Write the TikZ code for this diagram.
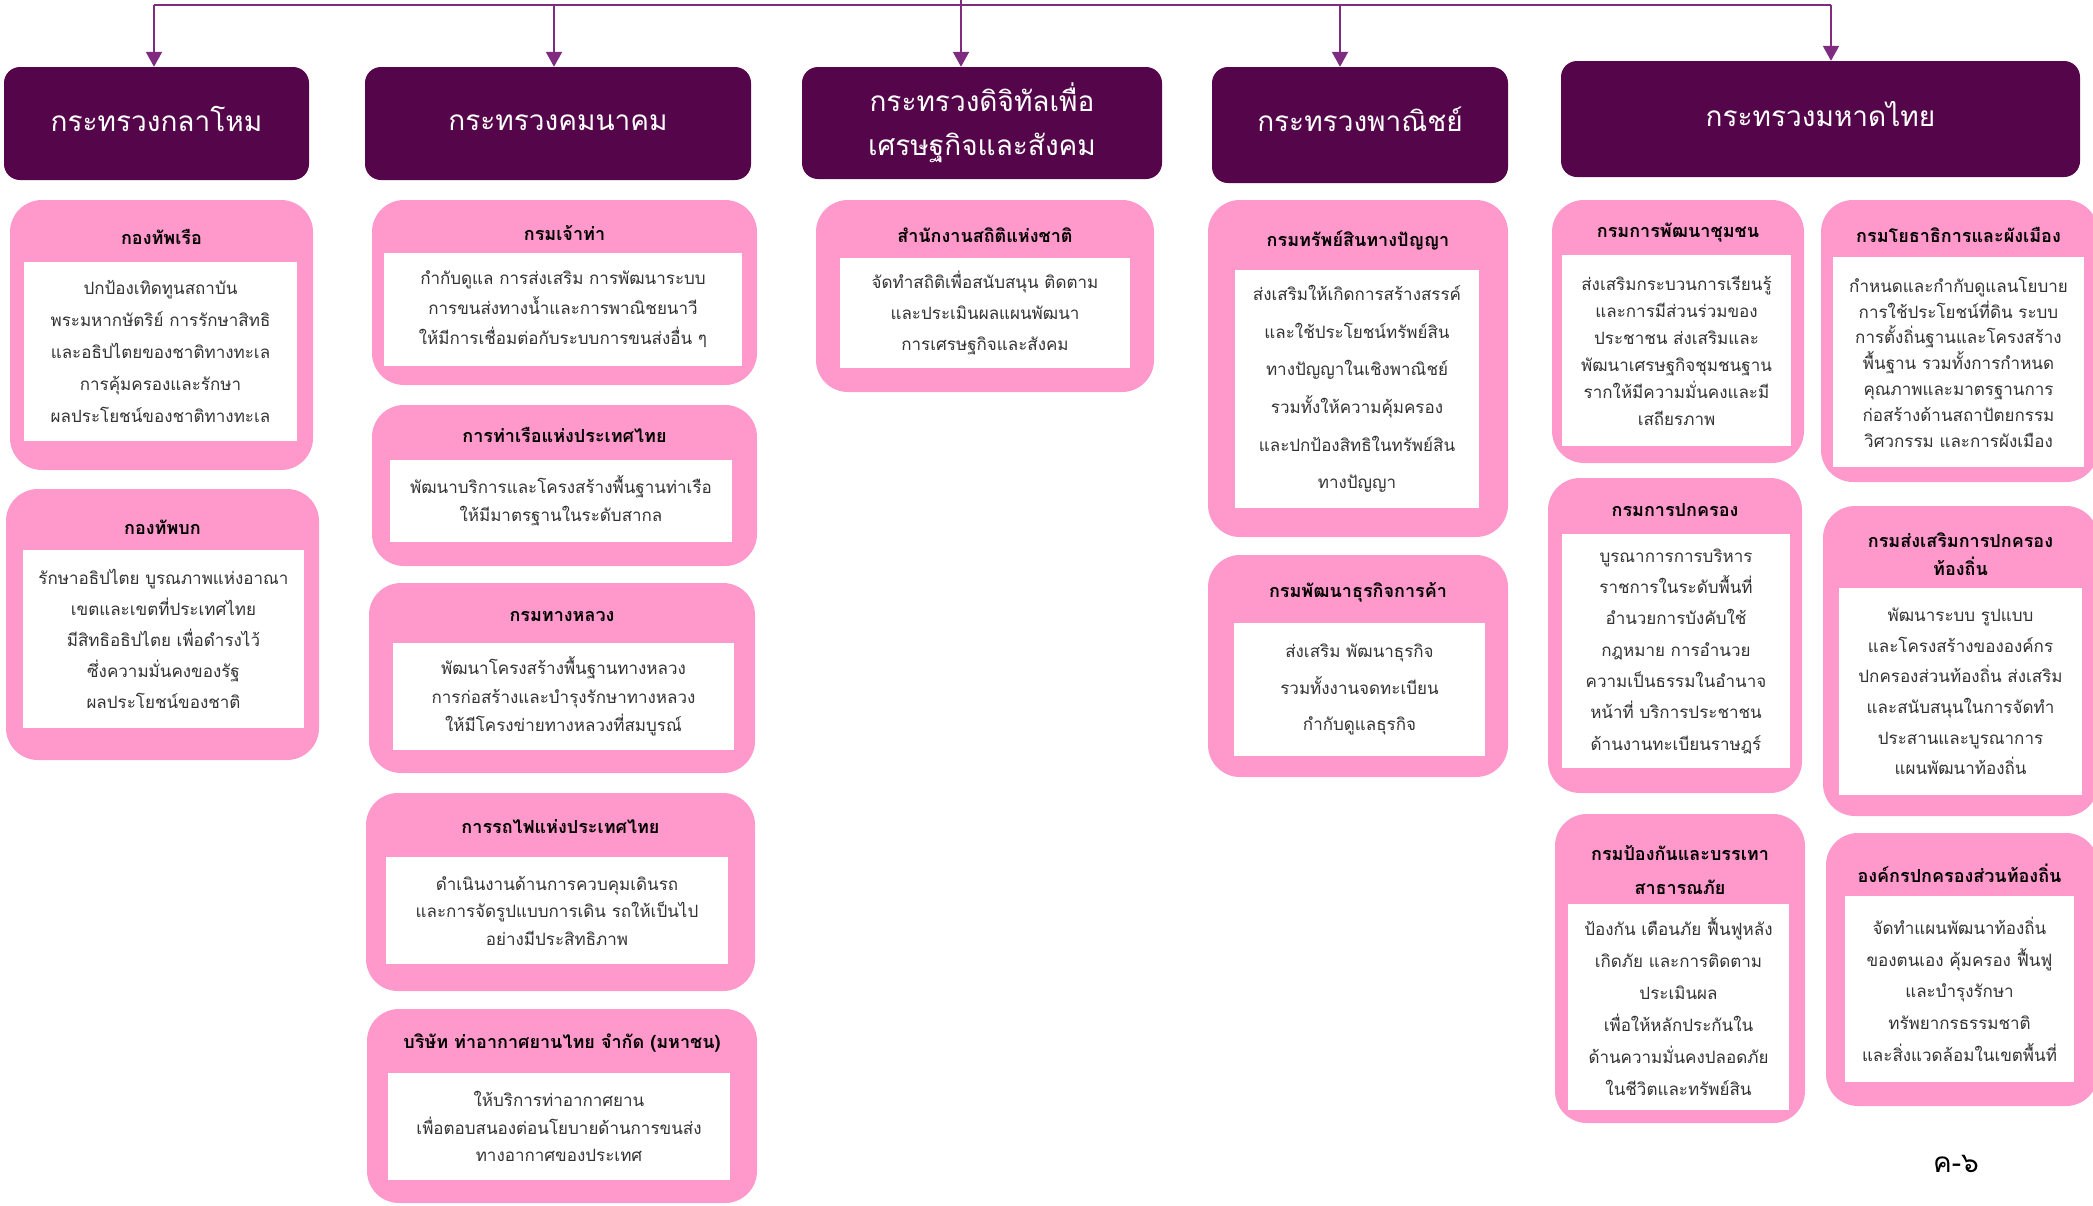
\documentclass[tikz,border=0pt]{standalone}
\usepackage{fontspec}
\setmainfont[Script=Thai]{Loma}
\usetikzlibrary{arrows.meta}
\definecolor{plum}{HTML}{55064B}
\definecolor{pinkbox}{HTML}{FF99CC}
\definecolor{linkline}{HTML}{7E2B80}
\definecolor{bodygray}{HTML}{333333}

\begin{document}
\begin{tikzpicture}[x=1pt, y=-1pt, >={Triangle[width=16pt,length=15pt]},
  ministry/.style={rectangle, rounded corners=16pt, fill=plum, inner sep=0pt},
  ministrytitle/.style={text=white, align=center, inner sep=0pt,
    font={\fontsize{28pt}{44pt}\selectfont}},
  dept/.style={rectangle, rounded corners=32pt, fill=pinkbox, inner sep=0pt},
  depttitle/.style={align=center, inner sep=0pt,
    font={\bfseries\fontsize{18pt}{#1pt}\selectfont}},
  depttitle/.default=28,
  deptbody/.style={rectangle, fill=white, text=bodygray, align=center,
    inner sep=0pt, font={\fontsize{17pt}{#1pt}\selectfont}},
  link/.style={draw=linkline, line width=2pt}]
\useasboundingbox (0,0) rectangle (2093,1205);

% ministries
\foreach \x/\y/\w/\h/\dy/\txt [count=\i] in {
    156.5/123.5/305/113/5/กระทรวงกลาโหม,
    558/123.5/386/113/1/กระทรวงคมนาคม,
    982/123/360/112/0/{กระทรวงดิจิทัลเพื่อ\\เศรษฐกิจและสังคม},
    1360/125/296/116/6/กระทรวงพาณิชย์,
    1820.5/119/519/116/5/กระทรวงมหาดไทย}{
  \node [ministry, minimum width=\w pt, minimum height=\h pt] (ministry-\i) at (\x,\y) {};
  \node [ministrytitle, yshift=\dy pt] (ministry-\i-title) at (ministry-\i) {\txt};
}

% bus on top
\foreach \x [count=\i] in {154, 554, 961, 1340, 1831}
  \coordinate (bus-\i) at (\x,5);
\coordinate (top) at (961,0);

\draw [link] (bus-1) -- (bus-5);
\draw [link] (top) -- (bus-3);
\foreach \i in {1,...,5}
  \draw [link, ->] (bus-\i) -- (bus-\i |- ministry-\i.north);

% column 1
\node [dept, minimum width=303pt, minimum height=270pt] (navy) at (161.5,335) {};
\node [depttitle] (navy-title) at (161.5,237) {กองทัพเรือ};
\node [deptbody=32, minimum width=273pt, minimum height=179pt] (navy-body) at (160.5,351.5)
  {ปกป้องเทิดทูนสถาบัน\\พระมหากษัตริย์ การรักษาสิทธิ\\และอธิปไตยของชาติทางทะเล\\การคุ้มครองและรักษา\\ผลประโยชน์ของชาติทางทะเล};

\node [dept, minimum width=313pt, minimum height=271pt] (army) at (162.5,624.5) {};
\node [depttitle] (army-title) at (162.5,527) {กองทัพบก};
\node [deptbody=31, minimum width=281pt, minimum height=178pt] (army-body) at (163.5,639)
  {รักษาอธิปไตย บูรณภาพแห่งอาณา\\เขตและเขตที่ประเทศไทย\\มีสิทธิอธิปไตย เพื่อดำรงไว้\\ซึ่งความมั่นคงของรัฐ\\ผลประโยชน์ของชาติ};

% column 2
\node [dept, minimum width=385pt, minimum height=185pt] (marine) at (564.5,292.5) {};
\node [depttitle] (marine-title) at (564.5,233) {กรมเจ้าท่า};
\node [deptbody=30, minimum width=358pt, minimum height=113pt] (marine-body) at (563,309.5)
  {กำกับดูแล การส่งเสริม การพัฒนาระบบ\\การขนส่งทางน้ำและการพาณิชยนาวี\\ให้มีการเชื่อมต่อกับระบบการขนส่งอื่น ๆ};

\node [dept, minimum width=385pt, minimum height=161pt] (port) at (564.5,485.5) {};
\node [depttitle] (port-title) at (564.5,435) {การท่าเรือแห่งประเทศไทย};
\node [deptbody=28, minimum width=342pt, minimum height=82pt] (port-body) at (561,501)
  {พัฒนาบริการและโครงสร้างพื้นฐานท่าเรือ\\ให้มีมาตรฐานในระดับสากล};

\node [dept, minimum width=386pt, minimum height=190pt] (highway) at (562,678) {};
\node [depttitle] (highway-title) at (562,616) {กรมทางหลวง};
\node [deptbody=28.5, minimum width=341pt, minimum height=107pt] (highway-body) at (563.5,696.5)
  {พัฒนาโครงสร้างพื้นฐานทางหลวง\\การก่อสร้างและบำรุงรักษาทางหลวง\\ให้มีโครงข่ายทางหลวงที่สมบูรณ์};

\node [dept, minimum width=389pt, minimum height=198pt] (rail) at (560.5,892) {};
\node [depttitle] (rail-title) at (560.5,827) {การรถไฟแห่งประเทศไทย};
\node [deptbody=27.5, minimum width=342pt, minimum height=107pt] (rail-body) at (557,910.5)
  {ดำเนินงานด้านการควบคุมเดินรถ\\และการจัดรูปแบบการเดิน รถให้เป็นไป\\อย่างมีประสิทธิภาพ};

\node [dept, minimum width=390pt, minimum height=194pt] (airport) at (562,1106) {};
\node [depttitle] (airport-title) at (562,1043) {บริษัท ท่าอากาศยานไทย จำกัด (มหาชน)};
\node [deptbody=27.5, minimum width=342pt, minimum height=107pt] (airport-body) at (559,1126.5)
  {ให้บริการท่าอากาศยาน\\เพื่อตอบสนองต่อนโยบายด้านการขนส่ง\\ทางอากาศของประเทศ};

% column 3
\node [dept, minimum width=338pt, minimum height=192pt] (stat) at (985,296) {};
\node [depttitle] (stat-title) at (985,235) {สำนักงานสถิติแห่งชาติ};
\node [deptbody=31, minimum width=290pt, minimum height=110pt] (stat-body) at (985,313)
  {จัดทำสถิติเพื่อสนับสนุน ติดตาม\\และประเมินผลแผนพัฒนา\\การเศรษฐกิจและสังคม};

% column 4
\node [dept, minimum width=300pt, minimum height=337pt] (ip) at (1358,368.5) {};
\node [depttitle] (ip-title) at (1358,240) {กรมทรัพย์สินทางปัญญา};
\node [deptbody=37.6, minimum width=244pt, minimum height=238pt] (ip-body) at (1357,389)
  {ส่งเสริมให้เกิดการสร้างสรรค์\\และใช้ประโยชน์ทรัพย์สิน\\ทางปัญญาในเชิงพาณิชย์\\รวมทั้งให้ความคุ้มครอง\\และปกป้องสิทธิในทรัพย์สิน\\ทางปัญญา};

\node [dept, minimum width=300pt, minimum height=222pt] (dbd) at (1358,666) {};
\node [depttitle] (dbd-title) at (1358,592) {กรมพัฒนาธุรกิจการค้า};
\node [deptbody=36.5, minimum width=251pt, minimum height=133pt] (dbd-body) at (1359.5,689.5)
  {ส่งเสริม พัฒนาธุรกิจ\\รวมทั้งงานจดทะเบียน\\กำกับดูแลธุรกิจ};

% column 5, left
\node [dept, minimum width=252pt, minimum height=263pt] (cdd) at (1678,331.5) {};
\node [depttitle] (cdd-title) at (1678,233) {กรมการพัฒนาชุมชน};
\node [deptbody=27, minimum width=229pt, minimum height=191pt] (cdd-body) at (1676.5,350.5)
  {ส่งเสริมกระบวนการเรียนรู้\\และการมีส่วนร่วมของ\\ประชาชน ส่งเสริมและ\\พัฒนาเศรษฐกิจชุมชนฐาน\\รากให้มีความมั่นคงและมี\\เสถียรภาพ};

\node [dept, minimum width=254pt, minimum height=315pt] (dopa) at (1675,635.5) {};
\node [depttitle] (dopa-title) at (1675,510) {กรมการปกครอง};
\node [deptbody=31.3, minimum width=228pt, minimum height=234pt] (dopa-body) at (1676,651)
  {บูรณาการการบริหาร\\ราชการในระดับพื้นที่\\อำนวยการบังคับใช้\\กฎหมาย การอำนวย\\ความเป็นธรรมในอำนาจ\\หน้าที่ บริการประชาชน\\ด้านงานทะเบียนราษฎร์};

\node [dept, minimum width=250pt, minimum height=309pt] (ddpm) at (1680,968.5) {};
\node [depttitle=34] (ddpm-title) at (1680,870) {กรมป้องกันและบรรเทา\\สาธารณภัย};
\node [deptbody=32, minimum width=221pt, minimum height=206pt] (ddpm-body) at (1678.5,1007)
  {ป้องกัน เตือนภัย ฟื้นฟูหลัง\\เกิดภัย และการติดตาม\\ประเมินผล\\เพื่อให้หลักประกันใน\\ด้านความมั่นคงปลอดภัย\\ในชีวิตและทรัพย์สิน};

% column 5, right
\node [dept, minimum width=277pt, minimum height=282pt] (dpt) at (1959.5,341) {};
\node [depttitle] (dpt-title) at (1958.5,235) {กรมโยธาธิการและผังเมือง};
\node [deptbody=25.8, minimum width=251pt, minimum height=210pt] (dpt-body) at (1958.5,362)
  {กำหนดและกำกับดูแลนโยบาย\\การใช้ประโยชน์ที่ดิน ระบบ\\การตั้งถิ่นฐานและโครงสร้าง\\พื้นฐาน รวมทั้งการกำหนด\\คุณภาพและมาตรฐานการ\\ก่อสร้างด้านสถาปัตยกรรม\\วิศวกรรม และการผังเมือง};

\node [dept, minimum width=275pt, minimum height=310pt] (dla) at (1960.5,661) {};
\node [depttitle=28] (dla-title) at (1960.5,554) {กรมส่งเสริมการปกครอง\\ท้องถิ่น};
\node [deptbody=30.6, minimum width=243pt, minimum height=207pt] (dla-body) at (1960.5,691.5)
  {พัฒนาระบบ รูปแบบ\\และโครงสร้างขององค์กร\\ปกครองส่วนท้องถิ่น ส่งเสริม\\และสนับสนุนในการจัดทำ\\ประสานและบูรณาการ\\แผนพัฒนาท้องถิ่น};

\node [dept, minimum width=272pt, minimum height=273pt] (lao) at (1962,969.5) {};
\node [depttitle] (lao-title) at (1959.5,873) {องค์กรปกครองส่วนท้องถิ่น};
\node [deptbody=31.7, minimum width=229pt, minimum height=186pt] (lao-body) at (1959.5,989)
  {จัดทำแผนพัฒนาท้องถิ่น\\ของตนเอง คุ้มครอง ฟื้นฟู\\และบำรุงรักษา\\ทรัพยากรธรรมชาติ\\และสิ่งแวดล้อมในเขตพื้นที่};

% page number
\node [font={\fontsize{28pt}{32pt}\selectfont}] (page) at (1956,1164) {ค-๖};
\end{tikzpicture}
\end{document}
